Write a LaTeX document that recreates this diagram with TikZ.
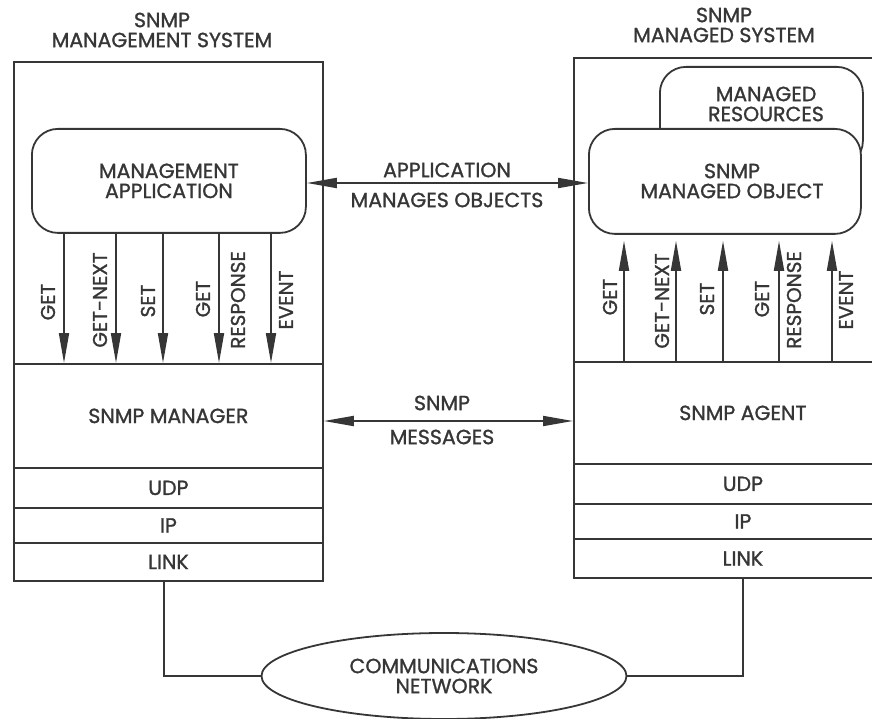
\documentclass[tikz,border=0pt]{standalone}
\usepackage{fontspec}
\setmainfont{Poppins}[FakeBold=1.2]
\usetikzlibrary{arrows.meta,shapes.geometric}
\definecolor{ink}{HTML}{363636}
\tikzset{
  txt/.style={font=\fontsize{20.5}{20}\selectfont, align=center, inner sep=0pt},
  vlab/.style={font=\fontsize{20}{20}\selectfont, rotate=90, inner sep=0pt},
  layer/.style={draw, rectangle, anchor=north west, inner sep=0pt, txt},
  rbox/.style={draw, rectangle, rounded corners=26pt, anchor=north west, inner sep=0pt, txt},
  sig/.style={-{Triangle[length=30pt,width=10pt]}},
  bisig/.style={{Triangle[length=30pt,width=10pt]}-{Triangle[length=30pt,width=10pt]}}
}
\begin{document}
\begin{tikzpicture}[x=1pt,y=-1pt,line width=1.8pt,color=ink]
\useasboundingbox (0,0) rectangle (872,719);
\clip (0,0) rectangle (872,719);
% titles
\node[txt] (ltitle) at (162,30) {SNMP\\MANAGEMENT SYSTEM};
\node[txt] (rtitle) at (724,25) {SNMP\\MANAGED SYSTEM};
% left system
\node[layer, minimum width=309, minimum height=519] (lsys) at (13,61) {};
\node[layer, minimum width=309, minimum height=104] (lmgr) at (13,363) {SNMP MANAGER};
\node[layer, minimum width=309, minimum height=40] (ludp) at (13,467) {UDP};
\node[layer, minimum width=309, minimum height=35] (lip) at (13,507) {IP};
\node[layer, minimum width=309, minimum height=38] (llink) at (13,542) {LINK};
\node[rbox, minimum width=274, minimum height=104] (app) at (31,128) {MANAGEMENT\\APPLICATION};
% right system
\node[layer, minimum width=338, minimum height=520] (rsys) at (573,57) {};
\node[layer, minimum width=338, minimum height=102] (ragent) at (573,361) {SNMP AGENT};
\node[layer, minimum width=338, minimum height=40] (rudp) at (573,463) {UDP};
\node[layer, minimum width=338, minimum height=35] (rip) at (573,503) {IP};
\node[layer, minimum width=338, minimum height=39] (rlink) at (573,538) {LINK};
\node[rbox, minimum width=203, minimum height=100] (res) at (659,66) {};
\node[txt] (restxt) at (766,104) {MANAGED\\RESOURCES};
\node[rbox, fill=white, minimum width=272, minimum height=105] (obj) at (588,128) {};
\node[txt] (objtxt) at (732,181) {SNMP\\MANAGED OBJECT};
% left primitives
\foreach \x in {64,116,163,219,271}
  \draw[sig] (app.south -| \x,0) -- (lmgr.north -| \x,0);
\node[vlab] (lget) at (48,302) {GET};
\node[vlab] (lgetnext) at (100,300) {GET-NEXT};
\node[vlab] (lset) at (148,301) {SET};
\node[vlab] (lgetr) at (203,299) {GET};
\node[vlab] (lresp) at (238,300) {RESPONSE};
\node[vlab] (levent) at (286,300) {EVENT};
% right primitives
\foreach \x in {624,676,723,779,832}
  \draw[sig, shorten >=6pt] (ragent.north -| \x,0) -- (obj.south -| \x,0);
\node[vlab] (rget) at (610,297) {GET};
\node[vlab] (rgetnext) at (662,301) {GET-NEXT};
\node[vlab] (rset) at (707,299) {SET};
\node[vlab] (rgetr) at (762,299) {GET};
\node[vlab] (rresp) at (794,300) {RESPONSE};
\node[vlab] (revent) at (846,300) {EVENT};
% horizontal relations
\draw[bisig] (app.east |- 0,183) -- (obj.west |- 0,183);
\node[txt] (apptxt) at (447,170) {APPLICATION};
\node[txt] (mantxt) at (447,200) {MANAGES OBJECTS};
\draw[bisig] (lmgr.east |- 0,421) -- (ragent.west |- 0,421);
\node[txt] (snmptxt) at (442,403) {SNMP};
\node[txt] (msgtxt) at (442,437) {MESSAGES};
% network
\node[ellipse, draw, minimum width=365, minimum height=86, inner sep=0pt, txt] (net) at (444,676) {COMMUNICATIONS\\NETWORK};
\draw (llink.south -| 164,0) |- (net.west);
\draw (rlink.south) |- (net.east);
\end{tikzpicture}
\end{document}
